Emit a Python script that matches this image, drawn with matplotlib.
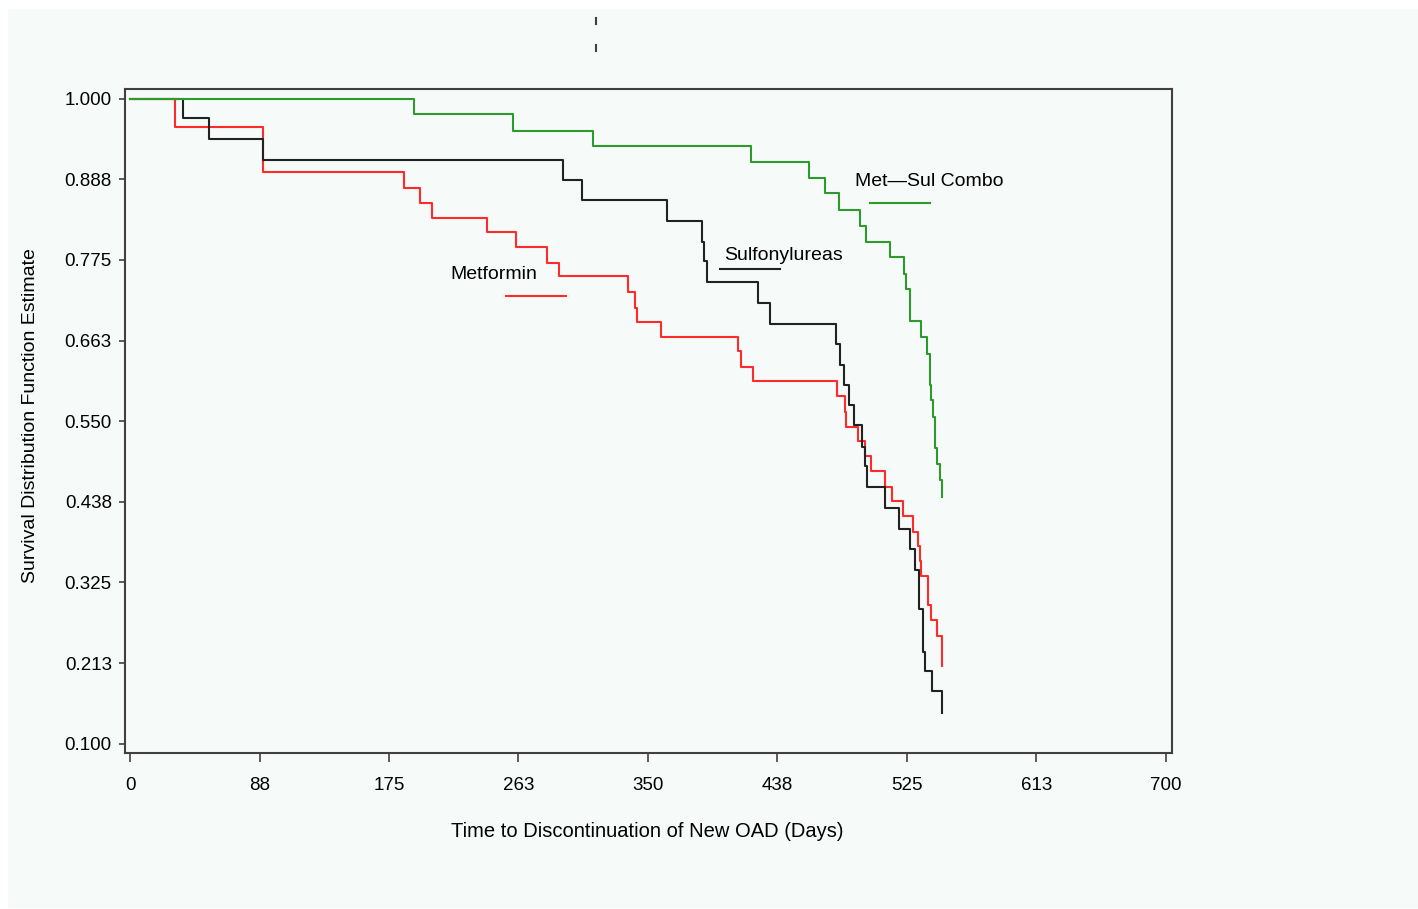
import matplotlib
matplotlib.use("Agg")
import matplotlib.pyplot as plt
from matplotlib.patches import Rectangle
from matplotlib.lines import Line2D

# Kaplan-Meier curves (days, survival)
met_days = [0, 30.2, 89.8, 185.2, 195.8, 204.1, 241.0, 260.8, 281.6, 290.0,
            336.3, 341.0, 342.8, 358.9, 411.0, 412.8, 421.3, 477.8, 482.8,
            483.5, 492.2, 496.8, 500.5, 510.3, 514.7, 522.6, 529.2, 532.7,
            533.9, 534.8, 539.5, 541.1, 545.1, 549.0]
met_surv = [1.000, 0.960, 0.897, 0.876, 0.854, 0.834, 0.814, 0.793, 0.771,
            0.752, 0.730, 0.708, 0.688, 0.668, 0.648, 0.625, 0.606, 0.585,
            0.563, 0.542, 0.522, 0.501, 0.480, 0.458, 0.439, 0.418, 0.396,
            0.376, 0.355, 0.334, 0.293, 0.272, 0.250, 0.209]

sul_days = [0, 35.8, 53.1, 89.8, 292.8, 305.2, 362.8, 386.4, 387.6, 389.8,
            424.2, 432.6, 477.2, 479.9, 482.6, 485.7, 489.2, 494.7, 496.8,
            497.8, 510.0, 519.4, 526.9, 530.7, 533.4, 535.9, 537.3, 542.2,
            549.0]
sul_surv = [1.000, 0.973, 0.944, 0.914, 0.886, 0.858, 0.829, 0.800, 0.773,
            0.744, 0.715, 0.686, 0.658, 0.629, 0.600, 0.573, 0.544, 0.514,
            0.487, 0.458, 0.429, 0.400, 0.372, 0.343, 0.288, 0.228, 0.202,
            0.173, 0.143]

combo_days = [0, 191.8, 258.8, 312.6, 419.5, 459.1, 469.3, 478.9, 493.1,
              497.0, 513.8, 523.3, 524.4, 526.9, 534.8, 538.4, 540.4, 541.5,
              542.9, 544.2, 545.4, 547.1, 549.0]
combo_surv = [1.000, 0.979, 0.955, 0.934, 0.911, 0.890, 0.868, 0.845, 0.823,
              0.800, 0.779, 0.755, 0.734, 0.690, 0.668, 0.644, 0.601, 0.579,
              0.556, 0.512, 0.490, 0.468, 0.444]

xticks = [0, 87.5, 175, 262.5, 350, 437.5, 525, 612.5, 700]
xtick_labels = ['0', '88', '175', '263', '350', '438', '525', '613', '700']
yticks = [0.1, 0.2125, 0.325, 0.4375, 0.55, 0.6625, 0.775, 0.8875, 1.0]
ytick_labels = ['0.100', '0.213', '0.325', '0.438', '0.550', '0.663',
                '0.775', '0.888', '1.000']

plt.rcParams['font.family'] = ['Liberation Sans', 'DejaVu Sans']

W, H = 1418, 909
bg = '#f6faf8'
frame = '#404040'

fig = plt.figure(figsize=(W / 100, H / 100), dpi=100, facecolor='white')
fig.patches.append(Rectangle((8 / W, 2 / H), 1, 1 - 11 / H,
                             transform=fig.transFigure, color=bg, zorder=-10))

# odd little dashes at the top of the page
fig.add_artist(Line2D([596 / W, 596 / W], [1 - 18 / H, 1 - 24 / H], color=frame, lw=1.5))
fig.add_artist(Line2D([596 / W, 596 / W], [1 - 45 / H, 1 - 51 / H], color=frame, lw=1.5))

ax = fig.add_axes([125 / W, 1 - 752.7 / H, (1172.3 - 125) / W, (752.7 - 89) / H])
ax.set_facecolor(bg)

ax.plot(met_days, met_surv, drawstyle='steps-post', color='#ff2a2a', lw=1.5)
ax.plot(sul_days, sul_surv, drawstyle='steps-post', color='#222222', lw=1.5)
ax.plot(combo_days, combo_surv, drawstyle='steps-post', color='#2e9a2e', lw=1.5)

# curve labels with a short line under each
ax.text(246.0, 0.755, 'Metformin', ha='center', va='center', fontsize=14)
ax.plot([254.2, 294.4], [0.725, 0.725], color='#ff2a2a', lw=1.5)
ax.text(441.7, 0.781, 'Sulfonylureas', ha='center', va='center', fontsize=14)
ax.plot([398.4, 438.9], [0.763, 0.763], color='#222222', lw=1.5)
ax.text(539.8, 0.884, 'Met\u2014Sul Combo', ha='center', va='center', fontsize=14)
ax.plot([500.1, 540.6], [0.854, 0.854], color='#2e9a2e', lw=1.5)

ax.set_xlim(-3.4, 704.3)
ax.set_ylim(0.0874, 1.0135)
ax.set_xticks(xticks)
ax.set_xticklabels(xtick_labels)
ax.set_yticks(yticks)
ax.set_yticklabels(ytick_labels)
ax.tick_params(axis='x', direction='out', length=6.5, width=1.2, color=frame,
               pad=11, labelsize=13.5)
ax.tick_params(axis='y', direction='out', length=4.5, width=1.2, color=frame,
               pad=5, labelsize=13.5)
for s in ax.spines.values():
    s.set_color(frame)
    s.set_linewidth(1.5)

ax.set_xlabel('Time to Discontinuation of New OAD (Days)', fontsize=14.5)
ax.set_ylabel('Survival Distribution Function Estimate', fontsize=14)
ax.xaxis.set_label_coords(0.4984, -0.104)
ax.yaxis.set_label_coords(-0.0821, 0.5073)

fig.savefig('out.png', dpi=100, facecolor=fig.get_facecolor())
